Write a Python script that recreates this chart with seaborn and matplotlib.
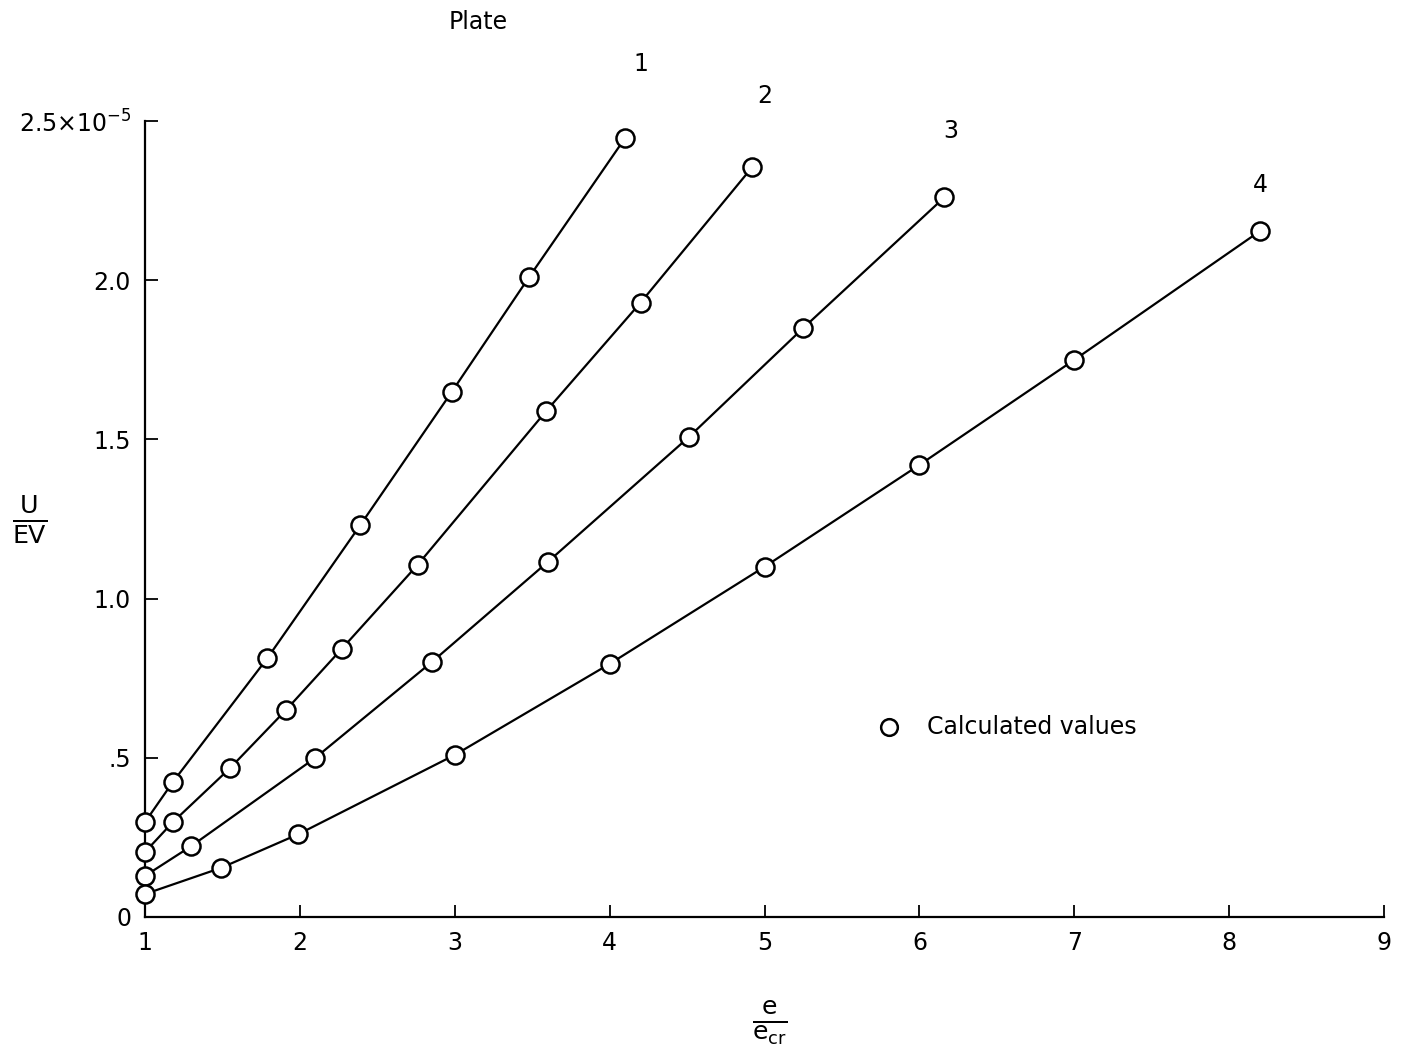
import matplotlib
matplotlib.use('Agg')
import matplotlib.pyplot as plt
import seaborn as sns
import pandas as pd

sns.set_style('ticks', {'axes.edgecolor': 'black', 'text.color': 'black',
                        'xtick.color': 'black', 'ytick.color': 'black',
                        'axes.labelcolor': 'black'})
plt.rcParams['font.family'] = ['DejaVu Sans']

# 판독값 (y 단위: 1e-5)
plate1_x = [1.0, 1.18, 1.79, 2.39, 2.98, 3.48, 4.1]
plate1_y = [0.298, 0.424, 0.813, 1.231, 1.649, 2.01, 2.447]
plate2_x = [1.0, 1.18, 1.55, 1.91, 2.27, 2.76, 3.59, 4.2, 4.92]
plate2_y = [0.204, 0.298, 0.468, 0.65, 0.842, 1.106, 1.589, 1.93, 2.355]
plate3_x = [1.0, 1.3, 2.1, 2.85, 3.6, 4.51, 5.25, 6.16]
plate3_y = [0.129, 0.223, 0.5, 0.8, 1.115, 1.507, 1.85, 2.26]
plate4_x = [1.0, 1.49, 1.99, 3.0, 4.0, 5.0, 6.0, 7.0, 8.2]
plate4_y = [0.072, 0.154, 0.26, 0.509, 0.795, 1.10, 1.42, 1.75, 2.155]

plate_names = ['1', '2', '3', '4']
label_x = [4.2, 5.0, 6.2, 8.2]
label_y = [2.68, 2.58, 2.47, 2.30]

yticks = [0, 0.5, 1.0, 1.5, 2.0, 2.5]
ytick_labels = ['0', '.5', '1.0', '1.5', '2.0', '2.5×10$^{-5}$']
xticks = [1, 2, 3, 4, 5, 6, 7, 8, 9]

frames = []
for name, xs, ys in zip(plate_names,
                        [plate1_x, plate2_x, plate3_x, plate4_x],
                        [plate1_y, plate2_y, plate3_y, plate4_y]):
    frames.append(pd.DataFrame({'x': xs, 'y': ys, 'plate': name}))
df = pd.concat(frames, ignore_index=True)

fig = plt.figure(figsize=(14.01, 10.58), dpi=100)
ax = fig.add_axes([0.1035, 0.1333, 0.8845, 0.7523])

for name in plate_names:
    d = df[df['plate'] == name]
    sns.lineplot(data=d, x='x', y='y', ax=ax, color='k', lw=1.6, sort=False,
                 marker='o', markersize=13, markerfacecolor='white',
                 markeredgecolor='k', markeredgewidth=1.8, clip_on=False, zorder=3)

for t, lx, ly in zip(plate_names, label_x, label_y):
    ax.text(lx, ly, t, fontsize=17, ha='center', va='center')
ax.text(3.15, 2.81, 'Plate', fontsize=17, ha='center', va='center')

ax.plot([5.8], [0.597], 'o', ms=12, mfc='white', mec='k', mew=1.8)
ax.text(6.05, 0.597, 'Calculated values', fontsize=17, va='center')

ax.set_xlim(1, 9)
ax.set_ylim(0, 2.5)
ax.set_xticks(xticks)
ax.set_xticklabels([str(v) for v in xticks], fontsize=17)
ax.set_yticks(yticks)
ax.set_yticklabels(ytick_labels, fontsize=17)
ax.tick_params(direction='in', length=9, width=1.3, pad=10, colors='black')
ax.spines['top'].set_visible(False)
ax.spines['right'].set_visible(False)
ax.spines['left'].set_linewidth(1.6)
ax.spines['bottom'].set_linewidth(1.6)
ax.set_xlabel('')
ax.set_ylabel('')

fig.text(30 / 1401, 1 - 520 / 1058, r'$\frac{\mathrm{U}}{\mathrm{EV}}$', fontsize=26,
         ha='center', va='center')
fig.text(770 / 1401, 1 - 1022 / 1058, r'$\frac{\mathrm{e}}{\mathrm{e_{cr}}}$', fontsize=26,
         ha='center', va='center')

fig.savefig('out.png', dpi=100)
